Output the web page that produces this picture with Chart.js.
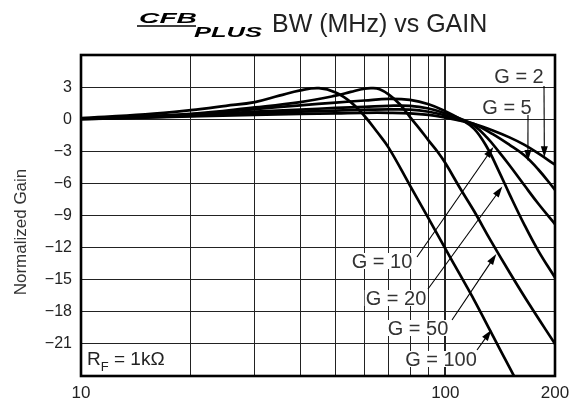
<!DOCTYPE html>
<html>
<head>
<meta charset="utf-8">
<script src="https://cdn.jsdelivr.net/npm/chart.js@4.4.0/dist/chart.umd.min.js"></script>
<style>
  html, body { margin: 0; padding: 0; background: #fff; }
  #c { display: block; }
</style>
</head>
<body>
<canvas id="c" width="585" height="400"></canvas>
<script>
// axis ticks
const xTicks = [10, 20, 30, 40, 50, 60, 70, 80, 90, 100, 200];
const xLabels = [10, 100, 200];
const yMin = -24, yMax = 6, yStep = 3;

// curves (MHz, dB)
const freqG2 = [10, 20, 30, 40, 50, 60, 70, 80, 90, 100, 110, 120, 135, 150, 165, 180, 200];
const gainG2 = [0.0, 0.25, 0.4, 0.5, 0.55, 0.6, 0.6, 0.55, 0.4, 0.15, -0.15, -0.45, -1.05, -1.7, -2.4, -3.2, -4.25];

const freqG5 = [10, 20, 30, 40, 50, 60, 70, 80, 90, 100, 110, 120, 135, 150, 165, 180, 200];
const gainG5 = [0.0, 0.3, 0.55, 0.7, 0.8, 0.88, 0.92, 0.9, 0.7, 0.35, -0.05, -0.45, -1.4, -2.4, -3.4, -4.7, -6.6];

const freqG10 = [10, 20, 30, 40, 50, 60, 70, 80, 90, 100, 110, 120, 130, 140, 150, 165, 180, 200];
const gainG10 = [0.05, 0.35, 0.7, 0.9, 1.05, 1.15, 1.25, 1.25, 1.0, 0.55, 0.05, -0.6, -1.7, -3.0, -4.3, -6.2, -7.9, -9.8];

const freqG20 = [10, 20, 30, 40, 50, 60, 70, 80, 90, 100, 110, 120, 130, 140, 150, 165, 180, 200];
const gainG20 = [0.05, 0.45, 0.95, 1.3, 1.55, 1.75, 1.9, 1.8, 1.4, 0.75, 0.0, -0.9, -2.6, -4.8, -7.0, -9.9, -12.3, -14.8];

const freqG50 = [10, 20, 30, 40, 50, 55, 60, 63, 66, 70, 75, 80, 85, 90, 95, 100, 110, 120, 133, 150, 170, 200];
const gainG50 = [0.05, 0.5, 1.1, 1.6, 2.2, 2.55, 2.85, 2.9, 2.8, 2.3, 1.4, 0.2, -0.9, -2.0, -3.0, -4.1, -6.5, -8.6, -11.3, -14.3, -17.3, -21.0];

const freqG100 = [10, 15, 20, 25, 30, 35, 40, 45, 50, 55, 60, 65, 70, 80, 90, 100, 110, 120, 133, 150, 160];
const gainG100 = [0.1, 0.45, 0.85, 1.25, 1.6, 2.2, 2.7, 2.9, 2.5, 1.6, 0.3, -1.2, -2.7, -6.2, -9.3, -12.1, -14.6, -16.9, -19.8, -23.2, -25.0];

const seriesNames = ['G = 2', 'G = 5', 'G = 10', 'G = 20', 'G = 50', 'G = 100'];
const seriesFreq = [freqG2, freqG5, freqG10, freqG20, freqG50, freqG100];
const seriesGain = [gainG2, gainG5, gainG10, gainG20, gainG50, gainG100];

// where each arrow touches its curve (MHz, dB)
const tipFreq = [187, 168.5, 135.5, 143.4, 138, 133.8];
const tipGain = [-3.55, -3.9, -2.6, -6.3, -12.6, -19.7];

// label centres and arrow tails, in pixels
const labelPos = [
  { cx: 519, cy: 76, tx: 544, ty: 86 },
  { cx: 507, cy: 107, tx: 528, ty: 115 },
  { cx: 382, cy: 261, tx: 417, ty: 257 },
  { cx: 396, cy: 298, tx: 428, ty: 289 },
  { cx: 418, cy: 328, tx: 452, ty: 320 },
  { cx: 441, cy: 359, tx: 477, ty: 350 }
];

const FONT = '"Liberation Sans", Arial, Helvetica, sans-serif';

function minus(v) {
  return v < 0 ? '\u2212' + Math.abs(v) : String(v);
}

function arrow(ctx, x0, y0, x1, y1) {
  const ang = Math.atan2(y1 - y0, x1 - x0);
  const len = 11, half = 3.5;
  ctx.beginPath();
  ctx.moveTo(x0, y0);
  ctx.lineTo(x1 - Math.cos(ang) * len * 0.8, y1 - Math.sin(ang) * len * 0.8);
  ctx.lineWidth = 1.1;
  ctx.stroke();
  ctx.beginPath();
  ctx.moveTo(x1, y1);
  ctx.lineTo(x1 - Math.cos(ang) * len - Math.sin(ang) * half, y1 - Math.sin(ang) * len + Math.cos(ang) * half);
  ctx.lineTo(x1 - Math.cos(ang) * len + Math.sin(ang) * half, y1 - Math.sin(ang) * len - Math.cos(ang) * half);
  ctx.closePath();
  ctx.fill();
}

const decor = {
  id: 'decor',
  beforeDraw(chart) {
    const ctx = chart.ctx;
    ctx.save();
    ctx.fillStyle = '#fff';
    ctx.fillRect(0, 0, chart.width, chart.height);
    ctx.restore();
  },
  afterDatasetsDraw(chart) {
    const { ctx, chartArea: a, scales: { x, y } } = chart;
    ctx.save();
    ctx.fillStyle = '#000';
    ctx.strokeStyle = '#000';

    // gain labels with arrows
    ctx.font = '20px ' + FONT;
    ctx.textAlign = 'center';
    ctx.textBaseline = 'middle';
    seriesNames.forEach((name, i) => {
      const p = labelPos[i];
      const w = ctx.measureText(name).width;
      ctx.fillStyle = '#fff';
      ctx.fillRect(p.cx - w / 2 - 1, p.cy - 8, w + 2, 16);
      ctx.fillStyle = '#333';
      ctx.fillText(name, p.cx, p.cy + 1);
      ctx.fillStyle = '#000';
      arrow(ctx, p.tx, p.ty, x.getPixelForValue(tipFreq[i]), y.getPixelForValue(tipGain[i]));
    });

    // R_F = 1kΩ
    ctx.textAlign = 'left';
    ctx.textBaseline = 'alphabetic';
    ctx.fillStyle = '#222';
    ctx.font = '19px ' + FONT;
    ctx.fillText('R', 87, 365);
    let cx = 87 + ctx.measureText('R').width;
    ctx.font = '13px ' + FONT;
    ctx.fillText('F', cx, 371);
    cx += ctx.measureText('F').width;
    ctx.font = '19px ' + FONT;
    ctx.fillText(' = 1k\u03A9', cx, 365);

    // frame
    ctx.lineWidth = 2.6;
    ctx.strokeStyle = '#000';
    ctx.strokeRect(a.left, a.top, a.right - a.left, a.bottom - a.top);
    ctx.restore();
  },
  afterDraw(chart) {
    const ctx = chart.ctx;
    ctx.save();
    ctx.fillStyle = '#000';
    ctx.strokeStyle = '#000';
    ctx.textBaseline = 'alphabetic';
    ctx.textAlign = 'left';

    // stylised CFB PLUS logo
    ctx.font = 'italic bold 15px ' + FONT;
    let w = ctx.measureText('CFB').width;
    ctx.save();
    ctx.translate(139, 23);
    ctx.scale(58 / w, 1);
    ctx.fillText('CFB', 0, 0);
    ctx.restore();
    ctx.lineWidth = 1.5;
    ctx.beginPath();
    ctx.moveTo(137, 26);
    ctx.lineTo(196, 26);
    ctx.stroke();
    ctx.font = 'italic bold 15px ' + FONT;
    w = ctx.measureText('PLUS').width;
    ctx.save();
    ctx.translate(194, 37);
    ctx.scale(68 / w, 1);
    ctx.fillText('PLUS', 0, 0);
    ctx.restore();

    // title text
    ctx.fillStyle = '#222';
    ctx.font = '25px ' + FONT;
    ctx.fillText('BW (MHz) vs GAIN', 272, 32);

    // y axis title
    ctx.translate(21, 232);
    ctx.rotate(-Math.PI / 2);
    ctx.textAlign = 'center';
    ctx.textBaseline = 'middle';
    ctx.font = '17px ' + FONT;
    ctx.fillStyle = '#333';
    ctx.fillText('Normalized Gain', 0, 0);
    ctx.restore();
  }
};

const datasets = seriesNames.map((name, i) => ({
  label: name,
  data: seriesFreq[i].map((f, j) => ({ x: f, y: seriesGain[i][j] })),
  borderColor: '#000',
  borderWidth: 2.7,
  pointRadius: 0,
  fill: false,
  tension: 0.4,
  clip: 0
}));

new Chart(document.getElementById('c'), {
  type: 'line',
  data: { datasets },
  options: {
    responsive: false,
    animation: false,
    devicePixelRatio: 1,
    layout: { padding: { top: 55, right: 30, left: 0, bottom: 0 } },
    plugins: {
      legend: { display: false },
      title: { display: false },
      tooltip: { enabled: false }
    },
    scales: {
      x: {
        type: 'logarithmic',
        min: 10,
        max: 200,
        afterBuildTicks: s => { s.ticks = xTicks.map(v => ({ value: v })); },
        afterFit: s => { s.height = 24; },
        border: { display: false },
        grid: {
          color: '#222',
          lineWidth: c => (c.tick && c.tick.value === 100 ? 2 : 1),
          drawTicks: false
        },
        ticks: {
          autoSkip: false,
          maxRotation: 0,
          padding: 7,
          color: '#222',
          font: { family: FONT, size: 17 },
          callback: v => (xLabels.includes(v) ? String(v) : '')
        }
      },
      y: {
        min: yMin,
        max: yMax,
        afterFit: s => { s.width = 81; },
        border: { display: false },
        grid: { color: '#222', lineWidth: 1, drawTicks: false },
        ticks: {
          stepSize: yStep,
          padding: 9,
          color: '#222',
          font: { family: FONT, size: 16 },
          callback: v => (v <= yMin || v >= yMax ? '' : minus(v))
        }
      }
    }
  },
  plugins: [decor]
});
</script>
</body>
</html>
